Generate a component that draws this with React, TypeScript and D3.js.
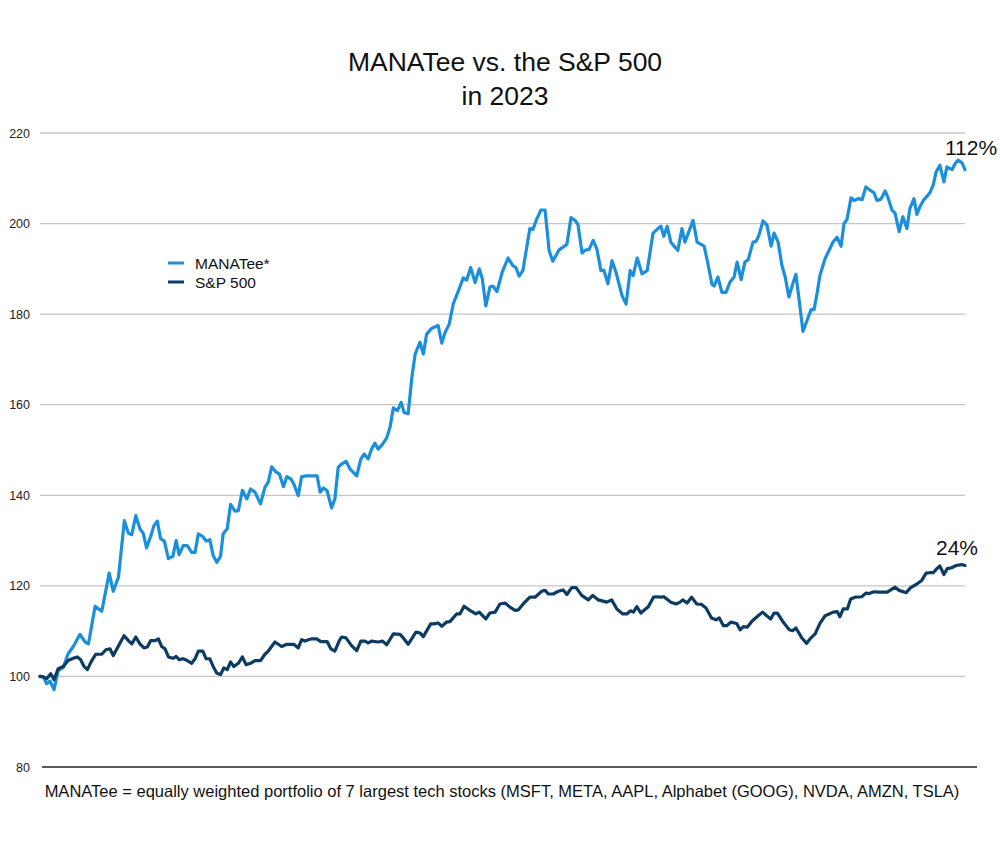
import React from "react";
import * as d3 from "d3";

// [trading day, index value]
const manatee: [number, number][] = [
  [0, 100], [0.9, 99.9], [1.8, 98.4], [2.7, 99], [3.8, 97.1], [4.9, 101.3], [6.3, 102], [7.6, 105],
  [9.0, 106.6], [10.8, 109.3], [12.2, 107.6], [13.1, 107.2], [14.9, 115.5], [16.7, 114.4], [18.7, 122.8],
  [19.8, 118.8], [21.2, 121.9], [22.8, 134.4], [23.9, 131.6], [24.8, 131.3], [25.9, 135.5], [27.0, 132.6],
  [27.9, 131.6], [28.8, 128.4], [29.9, 130.9], [30.8, 133.3], [31.7, 134.3], [32.6, 130.4], [33.6, 129.9],
  [34.7, 126], [35.9, 126.5], [36.8, 130], [37.6, 126.9], [38.7, 128.9], [39.8, 128.9], [41.0, 127.4],
  [41.9, 127.4], [42.8, 131.5], [44.0, 130.9], [44.9, 129.9], [45.9, 130.2], [46.8, 126.7], [47.8, 125.2],
  [48.8, 126.5], [49.5, 131.5], [50.6, 132.6], [51.5, 138], [52.7, 136.5], [53.6, 136.6], [54.7, 141.1],
  [55.9, 139.2], [56.9, 141.4], [58.1, 140.7], [59.6, 138.1], [60.8, 141.8], [61.7, 142.9], [62.6, 146.3],
  [63.8, 145.1], [64.7, 144.7], [65.8, 141.9], [66.7, 144.1], [67.8, 143.6], [68.6, 142.5], [69.8, 139.9],
  [70.7, 144.1], [71.9, 144.3], [74.9, 144.3], [75.7, 140.7], [76.6, 141.6], [77.6, 141], [78.8, 137.2],
  [79.7, 139.2], [80.6, 146.2], [81.5, 146.9], [82.7, 147.5], [83.8, 145.8], [85.6, 144.3], [86.7, 148],
  [87.6, 149.1], [88.7, 148], [89.6, 150.2], [90.5, 151.5], [91.4, 150.2], [92.6, 151.3], [93.7, 152.7],
  [94.6, 155], [95.5, 159.3], [96.6, 158.7], [97.6, 160.5], [98.4, 158.3], [99.5, 158], [100.5, 166],
  [101.4, 171.2], [102.7, 173.8], [103.6, 171.2], [104.5, 175.6], [105.9, 176.9], [107.6, 177.5],
  [108.6, 173.6], [109.5, 176], [110.6, 177.8], [111.7, 182.3], [113.1, 185.2], [114.4, 188], [115.3, 187.5],
  [116.4, 190.3], [117.6, 187], [118.7, 190], [119.5, 188], [120.5, 181.8], [121.6, 186], [122.4, 186.2],
  [123.5, 185], [124.9, 189.2], [126.5, 192.4], [127.8, 190.7], [128.6, 190.3], [129.5, 188.4], [130.5, 189.6],
  [132.4, 198.9], [133.2, 198.7], [134.3, 201.1], [135.4, 203], [136.5, 203], [137.6, 194], [138.6, 191.7],
  [140.3, 194.2], [142.4, 195.4], [143.5, 201.3], [144.6, 200.7], [145.4, 199.8], [146.5, 193.5],
  [147.3, 194.1], [148.4, 194.3], [149.5, 196.3], [150.5, 194.4], [151.6, 189.6], [152.4, 189.7],
  [153.5, 186.7], [154.6, 191.8], [155.7, 189.2], [157.3, 184.1], [158.4, 182.2], [159.5, 189.6],
  [160.3, 188.5], [161.4, 192.4], [162.7, 188.9], [164.1, 189.6], [165.7, 197.9], [167.0, 198.9],
  [167.8, 199.4], [168.6, 197.2], [169.5, 199.4], [170.5, 195.9], [171.6, 194.8], [172.4, 194.1],
  [173.5, 198.9], [174.3, 195.9], [176.5, 200.7], [177.6, 195.9], [179.5, 195], [180.5, 191.2],
  [181.6, 186.6], [182.2, 186.2], [183.2, 188.2], [184.3, 184.8], [185.4, 184.8], [186.5, 187.1],
  [187.6, 188.2], [188.4, 191.5], [189.5, 187.6], [190.5, 191.5], [191.4, 192], [192.7, 195.9],
  [193.5, 196], [194.3, 197.4], [195.4, 200.6], [196.5, 199.6], [197.6, 195], [198.4, 197.9],
  [199.5, 195.9], [200.5, 190.8], [201.4, 188.2], [202.4, 183.8], [203.5, 186.8], [204.3, 188.8],
  [205.4, 181.6], [206.2, 176.2], [207.3, 178.6], [208.4, 181], [209.2, 181], [210.0, 184.5],
  [210.8, 188.6], [212.2, 192.3], [213.5, 194.5], [214.3, 195.9], [215.4, 197], [216.5, 195],
  [217.3, 200], [218.1, 200.9], [219.2, 205.7], [220.0, 205.1], [221.1, 205.5], [222.2, 205.3],
  [223.2, 208.1], [224.3, 207.4], [225.4, 206.8], [226.2, 205.1], [227.3, 205.4], [228.4, 207.2],
  [229.2, 205.7], [230.3, 202.9], [231.1, 202.3], [232.2, 198.2], [233.2, 201.5], [234.3, 198.9],
  [235.1, 203.3], [236.2, 205.5], [237.0, 202], [237.8, 203.7], [238.9, 205.3], [239.7, 206],
  [240.5, 206.8], [241.4, 208.5], [242.2, 211.4], [243.2, 212.9], [244.3, 209.2], [245.1, 212.5],
  [246.5, 211.9], [247.3, 213.2], [248.1, 214], [249.2, 213.4], [250, 211.9],
];

const sp500: [number, number][] = [
  [0, 100], [0.9, 99.9], [1.8, 99.5], [2.9, 100.6], [3.8, 99.3], [4.9, 101.7], [6.3, 102.2], [7.6, 103.5],
  [9.0, 104], [10.1, 104.3], [11.0, 103.7], [11.9, 102.2], [12.8, 101.5], [14.0, 103.5], [15.1, 104.9],
  [16.7, 104.9], [17.8, 105.9], [18.9, 106.1], [19.8, 104.6], [20.9, 106.3], [22.7, 109], [23.9, 107.9],
  [24.8, 107.2], [25.9, 108.7], [27.0, 107.2], [28.1, 106.3], [29.0, 106.5], [29.9, 107.9], [31.1, 107.9],
  [32.0, 108.3], [32.9, 106.6], [33.8, 106.1], [34.7, 104.3], [35.9, 104], [36.8, 104.4], [37.6, 103.7],
  [38.7, 103.9], [39.8, 103.5], [41.0, 102.9], [41.9, 103.9], [42.8, 105.6], [44.0, 105.6], [44.9, 103.9],
  [45.9, 103.9], [46.8, 102.2], [47.8, 100.7], [48.8, 100.4], [49.7, 101.9], [50.6, 101.5], [51.5, 103.2],
  [52.4, 102.2], [53.6, 102.9], [54.7, 104.3], [55.7, 102.6], [56.9, 102.9], [58.1, 103.5], [59.6, 103.5],
  [60.8, 104.9], [61.7, 105.6], [63.5, 107.6], [65.3, 106.6], [66.7, 107.1], [68.6, 107.1], [69.8, 106.3],
  [70.7, 108.1], [71.6, 107.8], [73.4, 108.3], [74.8, 108.3], [75.9, 107.7], [77.6, 107.7], [78.6, 106.1],
  [79.7, 105.6], [80.9, 107.9], [81.5, 108.7], [82.7, 108.5], [84.2, 106.8], [85.6, 105.7], [86.7, 107.8],
  [87.8, 107.8], [88.7, 107.4], [89.6, 107.8], [91.4, 107.6], [92.6, 107.8], [93.7, 107], [95.5, 109.4],
  [97.3, 109.3], [98.2, 108.5], [99.5, 107.1], [101.6, 109.8], [102.7, 109.6], [103.6, 108.8],
  [105.6, 111.6], [106.5, 111.6], [107.6, 111.8], [108.6, 111.1], [109.9, 112], [110.8, 112.1],
  [112.6, 113.8], [113.5, 113.8], [114.6, 115.5], [116.2, 114.6], [117.8, 113.8], [118.7, 114.2],
  [120.5, 112.7], [121.6, 114], [123.0, 114.2], [124.3, 116], [125.7, 116.2], [127.0, 115.3],
  [128.4, 114.6], [129.3, 114.7], [130.6, 116], [132.4, 117.5], [133.8, 117.5], [135.6, 118.8],
  [136.5, 119], [137.4, 118.2], [138.7, 118.2], [140.1, 118.8], [141.4, 119.1], [142.4, 118.1],
  [143.7, 119.6], [144.9, 119.6], [146.4, 117.9], [148.2, 116.9], [149.4, 117.9], [150.9, 116.9],
  [153.2, 116.4], [154.5, 116.9], [155.9, 114.9], [157.5, 113.8], [158.6, 113.8], [159.6, 114.5],
  [160.4, 114.2], [161.3, 115.4], [162.4, 114], [164.4, 115.4], [165.8, 117.5], [166.8, 117.6],
  [167.8, 117.5], [168.6, 117.6], [170.5, 116.4], [171.9, 116], [173.0, 116.4], [173.7, 116.9],
  [174.9, 116.2], [176.1, 117.5], [177.5, 116], [178.8, 115.9], [180.0, 115.1], [181.5, 112.9],
  [182.7, 112.5], [183.6, 112.9], [184.7, 111.2], [185.6, 111.2], [186.7, 112], [188.3, 111.7],
  [189.2, 110.3], [190.1, 111], [191.2, 110.9], [192.4, 112.2], [194.1, 113.4], [195.3, 114.2],
  [196.4, 113.4], [197.5, 112.7], [198.4, 114], [199.3, 114], [200.7, 112.2], [202.5, 110.3],
  [203.4, 110.1], [204.3, 110.7], [205.9, 108.5], [207.2, 107.3], [208.1, 108.3], [209.5, 109.4],
  [210.8, 111.7], [212.2, 113.4], [213.3, 113.8], [214.4, 114.2], [215.5, 114.3], [216.2, 113.2],
  [217.1, 114.9], [218.2, 114.9], [219.1, 117.1], [220.3, 117.5], [222.1, 117.6], [223.2, 118.4],
  [224.1, 118.3], [225.4, 118.7], [226.8, 118.6], [229.0, 118.6], [231.1, 119.7], [232.2, 119],
  [234.1, 118.5], [235.3, 119.6], [236.8, 120.3], [238.3, 121.2], [239.5, 122.8], [240.5, 122.9],
  [241.4, 122.9], [242.4, 123.8], [243.2, 124.4], [244.3, 122.5], [245.2, 123.8], [246.4, 124],
  [247.6, 124.5], [249.1, 124.7], [250, 124.5],
];

const yTicks = [80, 100, 120, 140, 160, 180, 200, 220];
const titleLines = ["MANATee vs. the S&P 500", "in 2023"];
const seriesNames = ["MANATee*", "S&P 500"];
const endLabels = ["112%", "24%"];
const footnote =
  "MANATee = equally weighted portfolio of 7 largest tech stocks (MSFT, META, AAPL, Alphabet (GOOG), NVDA, AMZN, TSLA)";

const W = 1000;
const H = 852;
const FONT = "'Liberation Sans', Arial, Helvetica, sans-serif";
const COLORS = ["#1b8fdb", "#0c3c63"];

export default function App() {
  const x = d3.scaleLinear().domain([0, 250]).range([40, 965]);
  const y = d3.scaleLinear().domain([80, 220]).range([767, 133]);
  const line = d3
    .line<[number, number]>()
    .x((d) => x(d[0]))
    .y((d) => y(d[1]))
    .curve(d3.curveLinear);
  const series = [manatee, sp500];
  const lastVals = series.map((s) => s[s.length - 1]);
  const labelPos = [
    { x: 971, dy: -15 },
    { x: 957, dy: -10 },
  ];

  return (
    <div style={{ position: "absolute", left: 0, top: 0, background: "#fff" }}>
      <svg width={W} height={H} style={{ display: "block", fontFamily: FONT }}>
        <rect width={W} height={H} fill="#fff" />
        {titleLines.map((t, i) => (
          <text key={t} x={505} y={71 + i * 34} textAnchor="middle" fontSize={26.5} fill="#111">
            {t}
          </text>
        ))}
        {yTicks.map((t) => (
          <g key={t}>
            {t !== 80 && (
              <line x1={40} x2={965} y1={y(t)} y2={y(t)} stroke="#c6c6c6" strokeWidth={1.3} />
            )}
            <text x={30} y={y(t) + 4.5} textAnchor="end" fontSize={12.5} fill="#222">
              {t}
            </text>
          </g>
        ))}
        <line x1={42} x2={977} y1={y(80)} y2={y(80)} stroke="#222" strokeWidth={1.3} />
        {series.map((s, i) => (
          <path
            key={i}
            d={line(s) || ""}
            fill="none"
            stroke={COLORS[i]}
            strokeWidth={3.2}
            strokeLinejoin="round"
            strokeLinecap="round"
          />
        ))}
        {seriesNames.map((n, i) => (
          <g key={n} transform={`translate(168, ${263 + i * 19})`}>
            <line x1={0} x2={16} y1={0} y2={0} stroke={COLORS[i]} strokeWidth={3} />
            <text x={27} y={5.5} fontSize={15.5} fill="#111">
              {n}
            </text>
          </g>
        ))}
        {endLabels.map((l, i) => (
          <text
            key={l}
            x={labelPos[i].x}
            y={y(lastVals[i][1]) + labelPos[i].dy}
            textAnchor="middle"
            fontSize={21}
            fill="#111"
          >
            {l}
          </text>
        ))}
        <text x={502} y={797} textAnchor="middle" fontSize={16.5} fill="#111">
          {footnote}
        </text>
      </svg>
    </div>
  );
}
